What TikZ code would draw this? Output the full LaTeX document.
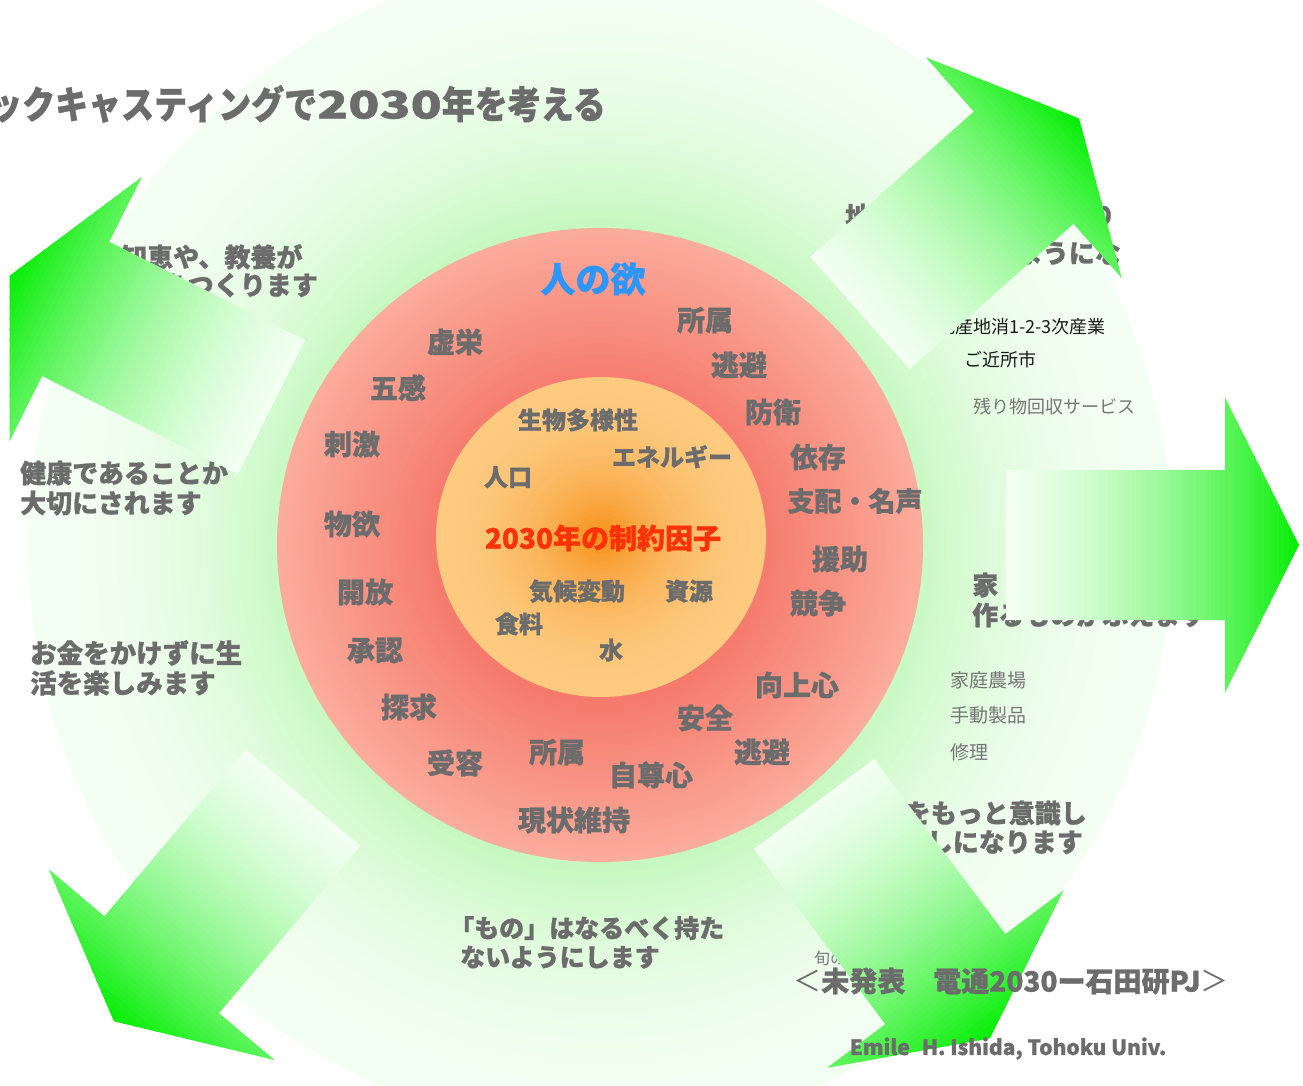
\documentclass[tikz,border=0pt]{standalone}
\usepackage{fontspec}
\setmainfont{Noto Sans CJK JP}[BoldFeatures={FakeBold=1}]
\definecolor{tgray}{RGB}{108,108,108}
\definecolor{lgray}{RGB}{118,118,118}
\definecolor{tblack}{RGB}{25,25,25}
\definecolor{tblue}{RGB}{45,150,250}
\definecolor{tred}{RGB}{250,50,10}
\definecolor{gOut}{RGB}{244,255,243}
\definecolor{gIn}{RGB}{198,248,192}
\definecolor{rOut}{RGB}{251,172,157}
\definecolor{rIn}{RGB}{245,122,108}
\definecolor{oOut}{RGB}{253,202,128}
\definecolor{oIn}{RGB}{247,146,28}
\definecolor{apale}{RGB}{242,255,241}
\definecolor{agreen}{RGB}{8,238,8}
\newcommand\greenarrow[3]{%
 \begin{scope}[shift={(#1,#2)},rotate=#3]
  \clip (0,-75) -- (219,-75) -- (219,-147.5) -- (293,0) -- (219,147.5) -- (219,75) -- (0,75) -- cycle;
  \foreach \k in {0,...,59}{%
   \pgfmathsetmacro\q{100*(0.35*\k/59+0.65*(\k/59)*(\k/59))}%
   \pgfmathsetmacro\xa{\k/60*293-0.6}%
   \pgfmathsetmacro\xb{(\k+1)/60*293+0.6}%
   \fill[agreen!\q!apale] (\xa,-160) rectangle (\xb,160);
  }
 \end{scope}}
\tikzset{
 txt/.style={inner sep=0pt, text=tgray, font=\bfseries\fontsize{#1}{#1}\selectfont,
   text height=0.88*#1pt, text depth=0.12*#1pt},
 txr/.style={inner sep=0pt, text=tblack, font=\fontsize{#1}{#1}\selectfont,
   text height=0.88*#1pt, text depth=0.12*#1pt},
 ring/.style={txt=28},
 core/.style={txt=24},
 note/.style={txt=26},
}
\begin{document}
\begin{tikzpicture}[x=1pt,y=-1pt]
\useasboundingbox (0,0) rectangle (1303,1086);
\clip (0,0) rectangle (1303,1086);
\fill[white] (0,0) rectangle (1303,1086);
% outer green disc
\foreach \i in {0,...,49}{%
  \pgfmathsetmacro\s{1-\i*0.45/49}%
  \pgfmathsetmacro\p{100*(\i/49)*(\i/49)}%
  \fill[gIn!\p!gOut] (600,545) ellipse [x radius=572*\s, y radius=585*\s];
}
% red disc
\foreach \i in {0,...,39}{%
  \pgfmathsetmacro\s{1-\i*0.5/39}%
  \pgfmathsetmacro\p{100*\i/39}%
  \fill[rIn!\p!rOut] (600,545) ellipse [x radius=323*\s, y radius=317*\s];
}
% orange disc
\foreach \i in {0,...,39}{%
  \pgfmathsetmacro\s{1-\i*0.97/39}%
  \pgfmathsetmacro\p{100*(\i/39)*(\i/39)}%
  \fill[oIn!\p!oOut] (601,537) ellipse [x radius=165*\s, y radius=160*\s];
}
% title
\node[inner sep=0pt, text=tgray, font=\bfseries\fontsize{33}{33}\selectfont, anchor=east] (title) at (606,104)
  {\scalebox{1}[1.15]{バックキャスティングで\scalebox{1.55}[1]{2030}年を考える}};
% ring labels
\node[txt=35, text=tblue] (hito) at (593,279) {人の欲};
\node[ring] (r1) at (705,320) {所属};
\node[ring] (r2) at (455,342) {虚栄};
\node[ring] (r3) at (739,365) {逃避};
\node[ring] (r4) at (398,388) {五感};
\node[ring] (r5) at (773,412) {防衛};
\node[ring] (r6) at (352,444) {刺激};
\node[ring] (r7) at (818,457) {依存};
\node[txt=27] (r8) at (855,501) {支配・名声};
\node[ring] (r9) at (352,524) {物欲};
\node[ring] (r10) at (840,559) {援助};
\node[ring] (r11) at (365,592) {開放};
\node[ring] (r12) at (818,603) {競争};
\node[ring] (r13) at (375,650) {承認};
\node[ring] (r14) at (797,685) {向上心};
\node[ring] (r15) at (409,707) {探求};
\node[ring] (r16) at (705,718) {安全};
\node[ring] (r17) at (762,752) {逃避};
\node[ring] (r18) at (455,763) {受容};
\node[ring] (r19) at (557,752) {所属};
\node[ring] (r20) at (651,775) {自尊心};
\node[ring] (r21) at (574,820) {現状維持};
% core labels
\node[core] (c1) at (578,420) {生物多様性};
\node[core] (c2) at (672,457) {エネルギー};
\node[core] (c3) at (508,477) {人口};
\node[txt=28, text=tred] (core) at (603,538) {2030年の制約因子};
\node[core] (c4) at (577,591) {気候変動};
\node[core] (c5) at (689,591) {資源};
\node[core] (c6) at (519,624) {食料};
\node[core] (c7) at (611,650) {水};
% outer notes
\node[note, anchor=west] (ul1) at (121,257) {知恵や、教養が};
\node[note, anchor=east] (ul2) at (318,285) {豊かさをつくります};
\node[note, anchor=west] (l1) at (20,473) {健康であることか};
\node[note, anchor=west] (l2) at (20,503) {大切にされます};
\node[txt=26.5, anchor=west] (ll1) at (30,653) {お金をかけずに生};
\node[txt=26.5, anchor=west] (ll2) at (30,683) {活を楽しみます};
\node[txt=25, anchor=west] (b1) at (449,928) {「もの」はなるべく持た};
\node[txt=25, anchor=west] (b2) at (460,957) {ないようにします};
\node[note, anchor=west, text width=270pt] (ur1) at (845,216) {地\hfill り};
\node[note, anchor=east] (ur2) at (1121,253) {ようにな};
\node[txr=18, anchor=east] (s1) at (1106,327) {地産地消1-2-3次産業};
\node[txr=18] (s2) at (1000,360) {ご近所市};
\node[txr=18, text=lgray, anchor=west] (s3) at (973,407) {残り物回収サービス};
\node[note, anchor=west] (r1a) at (972,585) {家};
\node[note, anchor=west] (r2a) at (972,615) {作るものがふえます};
\node[txr=19, text=lgray, anchor=west] (h1) at (950,680) {家庭農場};
\node[txr=19, text=lgray, anchor=west] (h2) at (950,715) {手動製品};
\node[txr=19, text=lgray, anchor=west] (h3) at (950,752) {修理};
\node[note, anchor=east] (lr1) at (1087,813) {季節をもっと意識し};
\node[note, anchor=east] (lr2) at (1083,842) {た暮らしになります};
\node[txr=16, text=lgray, anchor=west] (shun) at (814,958) {旬の};
% arrows
\greenarrow{860}{313}{41.6}
\greenarrow{1006}{545}{0}
\greenarrow{814}{804}{-53.13}
\greenarrow{303}{797.5}{-130.2}
\greenarrow{271.5}{407}{153.4}
% footer
\node[txt=28] (foot) at (1011,981) {{\mdseries ＜}未発表　電通2030ー石田研PJ{\mdseries ＞}};
\node[txt=21] (auth) at (1008,1047) {Emile\hspace{12pt}H. Ishida, Tohoku Univ.};
\end{tikzpicture}
\end{document}
